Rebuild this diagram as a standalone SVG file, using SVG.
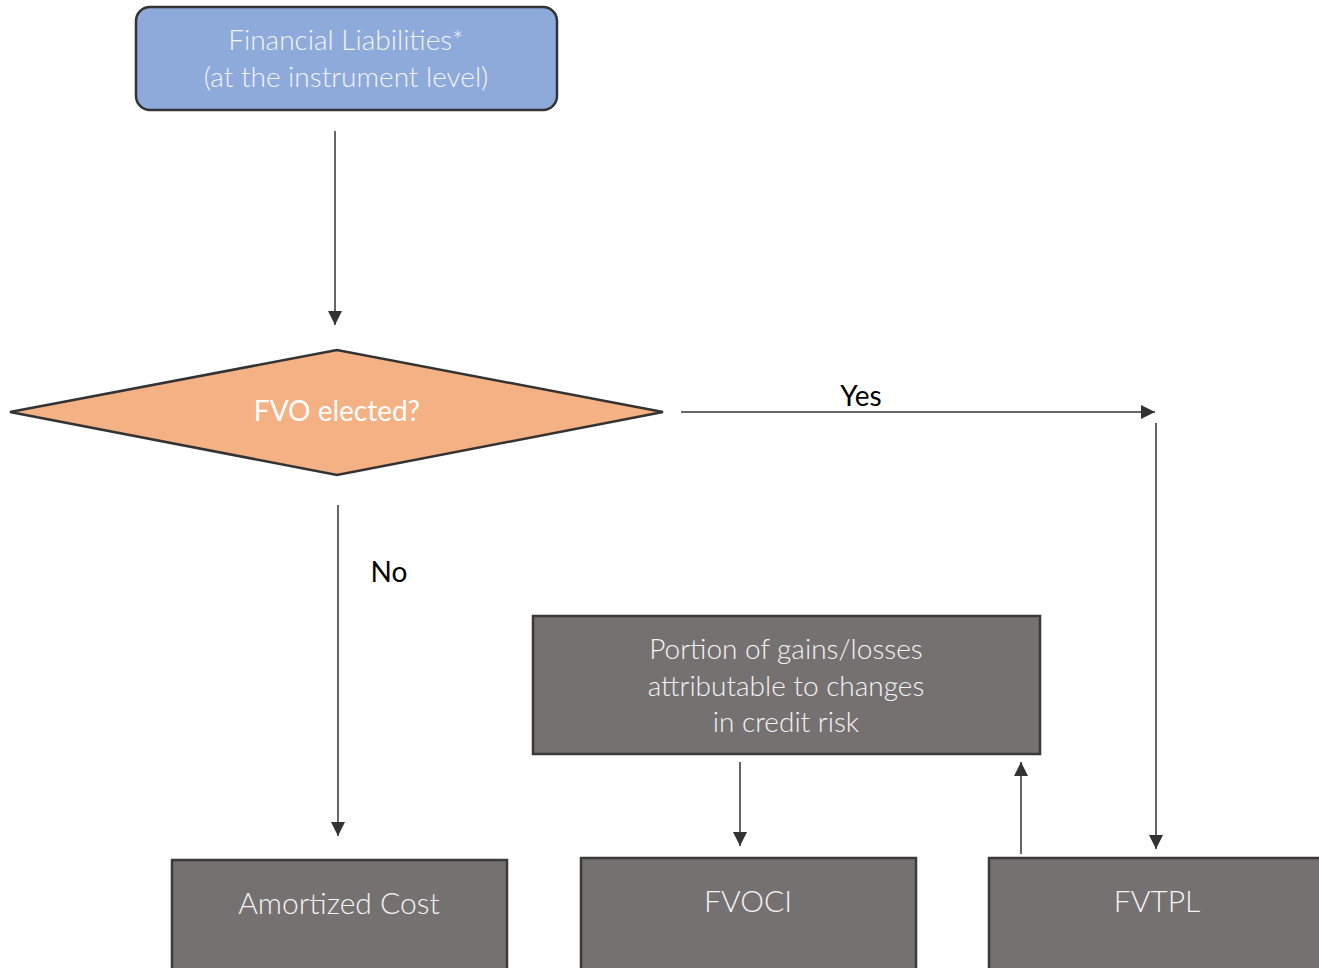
<svg xmlns="http://www.w3.org/2000/svg" width="1319" height="968" viewBox="0 0 1319 968">
<defs>
<marker id="ah2" viewBox="0 0 14 14" refX="14" refY="7" markerWidth="14" markerHeight="14" markerUnits="userSpaceOnUse" orient="auto">
<path d="M0,0 L14,7 L0,14 z" fill="#333"/>
</marker>
</defs>
<style>
.lbl{font-family:"Lato","Open Sans","Liberation Sans",sans-serif;font-weight:300;font-size:28px;fill:#f4f4f4;text-anchor:middle}
.big{font-size:30px}
.blk{font-family:"Lato","Open Sans","Liberation Sans",sans-serif;font-weight:400;font-size:28px;fill:#000;text-anchor:middle}
.box{fill:#767171;stroke:#3a3a3a;stroke-width:2.5}
.conn{stroke:#333;stroke-width:1.5;fill:none;marker-end:url(#ah2)}
</style>
<rect width="1319" height="968" fill="#fff"/>
<g id="n-financial">
<rect x="136" y="7" width="421" height="103" rx="14" fill="#8EAADB" stroke="#333" stroke-width="2.5"/>
<text class="lbl" x="346" y="50">Financial Liabilities*</text>
<text class="lbl" x="346" y="87">(at the instrument level)</text>
</g>
<g id="n-fvo">
<polygon points="10,412 337,350 663,412 337,475" fill="#F4B183" stroke="#333" stroke-width="2.5"/>
<text class="lbl" x="337" y="421" style="font-weight:400;fill:#fff">FVO elected?</text>
</g>
<g id="n-portion">
<rect x="533" y="616" width="507" height="138" class="box"/>
<text class="lbl" x="786" y="659">Portion of gains/losses</text>
<text class="lbl" x="786" y="696">attributable to changes</text>
<text class="lbl" x="786" y="732">in credit risk</text>
</g>
<g id="n-amortized">
<rect x="172" y="860" width="335" height="120" class="box"/>
<text class="lbl big" x="339" y="914">Amortized Cost</text>
</g>
<g id="n-fvoci">
<rect x="581" y="858" width="335" height="120" class="box"/>
<text class="lbl big" x="748" y="912">FVOCI</text>
</g>
<g id="n-fvtpl">
<rect x="989" y="858" width="345" height="120" class="box"/>
<text class="lbl big" x="1157" y="912">FVTPL</text>
</g>
<g id="connectors">
<line x1="335" y1="131" x2="335" y2="325" class="conn"/>
<line x1="681" y1="412" x2="1155" y2="412" class="conn"/>
<line x1="1156" y1="423" x2="1156" y2="849" class="conn"/>
<line x1="338" y1="505" x2="338" y2="836" class="conn"/>
<line x1="740" y1="762" x2="740" y2="846" class="conn"/>
<line x1="1021" y1="854" x2="1021" y2="762" class="conn"/>
<text class="blk" x="861" y="406">Yes</text>
<text class="blk" x="389" y="582">No</text>
</g>
</svg>
